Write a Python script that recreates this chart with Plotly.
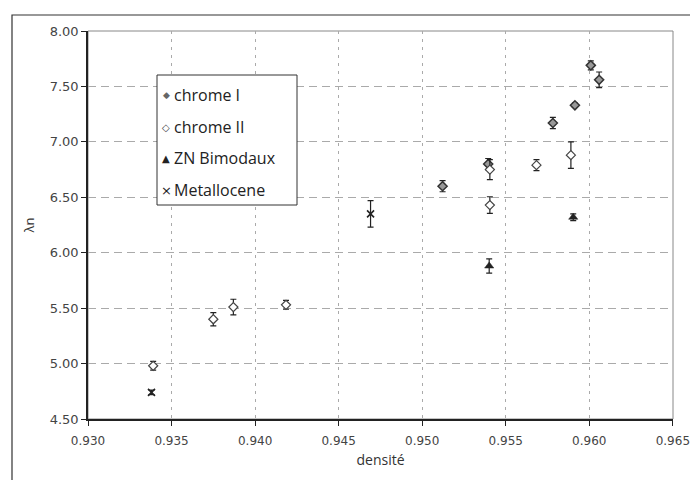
import plotly.graph_objects as go

# chrome I
c1_x = [0.95122, 0.95395, 0.95782, 0.95914, 0.96009, 0.96059]
c1_y = [6.60, 6.80, 7.17, 7.33, 7.69, 7.56]
c1_e = [0.05, 0.05, 0.05, 0.02, 0.04, 0.07]
# chrome II
c2_x = [0.9339, 0.9375, 0.9387, 0.94185, 0.95405, 0.95405, 0.95684, 0.9589]
c2_y = [4.98, 5.40, 5.51, 5.53, 6.43, 6.75, 6.79, 6.88]
c2_e = [0.04, 0.06, 0.07, 0.04, 0.075, 0.09, 0.05, 0.12]
# ZN Bimodaux
zn_x = [0.95401, 0.95904]
zn_y = [5.88, 6.32]
zn_e = [0.065, 0.03]
# Metallocene
me_x = [0.9338, 0.94691]
me_y = [4.74, 6.35]
me_e = [0.02, 0.12]

series_names = ["chrome I", "chrome II", "ZN Bimodaux", "Metallocene"]
legend_glyphs = ["◆", "◇", "▲", "×"]
x_ticks = [0.930, 0.935, 0.940, 0.945, 0.950, 0.955, 0.960, 0.965]
y_ticks = [4.5, 5.0, 5.5, 6.0, 6.5, 7.0, 7.5, 8.0]

# plot area in pixels
L, R, T, B = 88, 673, 31, 419
W, H = R - L, B - T
def px(xp):
    return (xp - L) / W
def py(yp):
    return (B - yp) / H

def eb(e):
    return dict(type="data", array=e, visible=True, color="#222", thickness=1.2, width=3)

styles = [
    dict(symbol="diamond", color="#999", line=dict(color="#333", width=1.5)),
    dict(symbol="diamond", color="white", line=dict(color="#444", width=1.2)),
    dict(symbol="triangle-up", color="#222", line=dict(color="#222", width=0.5)),
    dict(symbol="x-thin-open", color="#222", line=dict(color="#222", width=1.6)),
]
sizes = [7, 7, 8, 7]
data = [(c1_x, c1_y, c1_e), (c2_x, c2_y, c2_e), (zn_x, zn_y, zn_e), (me_x, me_y, me_e)]

fig = go.Figure()
for name, (xs, ys, es), st, sz in zip(series_names, data, styles, sizes):
    fig.add_trace(go.Scatter(x=xs, y=ys, mode="markers", name=name, showlegend=False,
                             error_y=eb(es), marker=dict(size=sz, **st)))

# manual legend
annotations = []
leg_y = [95, 127, 158, 190]
glyph_colors = ["#666", "#444", "#222", "#222"]
glyph_sizes = [9, 10, 10, 13]
for name, g, yy, gc, gs in zip(series_names, legend_glyphs, leg_y, glyph_colors, glyph_sizes):
    annotations.append(dict(xref="paper", yref="paper", x=px(166), y=py(yy),
                            text=g, showarrow=False, xanchor="center", yanchor="middle",
                            font=dict(family="DejaVu Sans", size=gs, color=gc)))
    annotations.append(dict(xref="paper", yref="paper", x=px(172), y=py(yy),
                            text=name, showarrow=False, xanchor="left", yanchor="middle",
                            font=dict(family="Open Sans", size=16, color="#222")))

fig.update_layout(
    width=690, height=480,
    margin=dict(l=L, r=690 - R, t=T, b=480 - B, autoexpand=False),
    paper_bgcolor="white", plot_bgcolor="white",
    font=dict(family="Open Sans, DejaVu Sans, sans-serif", color="#333"),
    showlegend=False,
    annotations=annotations,
    shapes=[
        dict(type="rect", xref="paper", yref="paper",
             x0=px(12), x1=px(720), y0=py(500), y1=py(15),
             line=dict(color="#333", width=1.2), fillcolor="rgba(0,0,0,0)",
             layer="below"),
        dict(type="rect", xref="paper", yref="paper", x0=0, x1=1, y0=0, y1=1,
             line=dict(color="#888", width=1), fillcolor="rgba(0,0,0,0)",
             layer="below"),
        dict(type="rect", xref="paper", yref="paper",
             x0=px(157), x1=px(297), y0=py(205), y1=py(75),
             line=dict(color="#333", width=1), fillcolor="white", layer="above"),
    ],
)
fig.update_xaxes(range=[0.930, 0.96501], tickvals=x_ticks,
                 ticktext=[f"{v:.3f}" for v in x_ticks], automargin=False,
                 ticklabeloverflow="allow", ticklabelstandoff=5,
                 showgrid=True, gridcolor="#aaa", griddash="3px,5px", gridwidth=1,
                 showline=True, linecolor="#222", linewidth=1.5,
                 ticks="outside", ticklen=5, tickcolor="#222",
                 tickfont=dict(family="DejaVu Sans", size=12, color="#444"),
                 title=dict(text="densité", font=dict(family="Open Sans", size=14, color="#333"),
                            standoff=8),
                 zeroline=False)
fig.update_yaxes(range=[4.5, 8.0], tickvals=y_ticks,
                 ticktext=[f"{v:.2f}" for v in y_ticks], automargin=False,
                 showgrid=True, gridcolor="#aaa", griddash="8px,5px", gridwidth=1,
                 showline=True, linecolor="#222", linewidth=1.5,
                 ticks="outside", ticklen=5, tickcolor="#222",
                 tickfont=dict(family="DejaVu Sans", size=13, color="#444"),
                 title=dict(text="λn", font=dict(family="Open Sans", size=13, color="#333"),
                            standoff=12),
                 zeroline=False)

fig.write_html("out.html")
